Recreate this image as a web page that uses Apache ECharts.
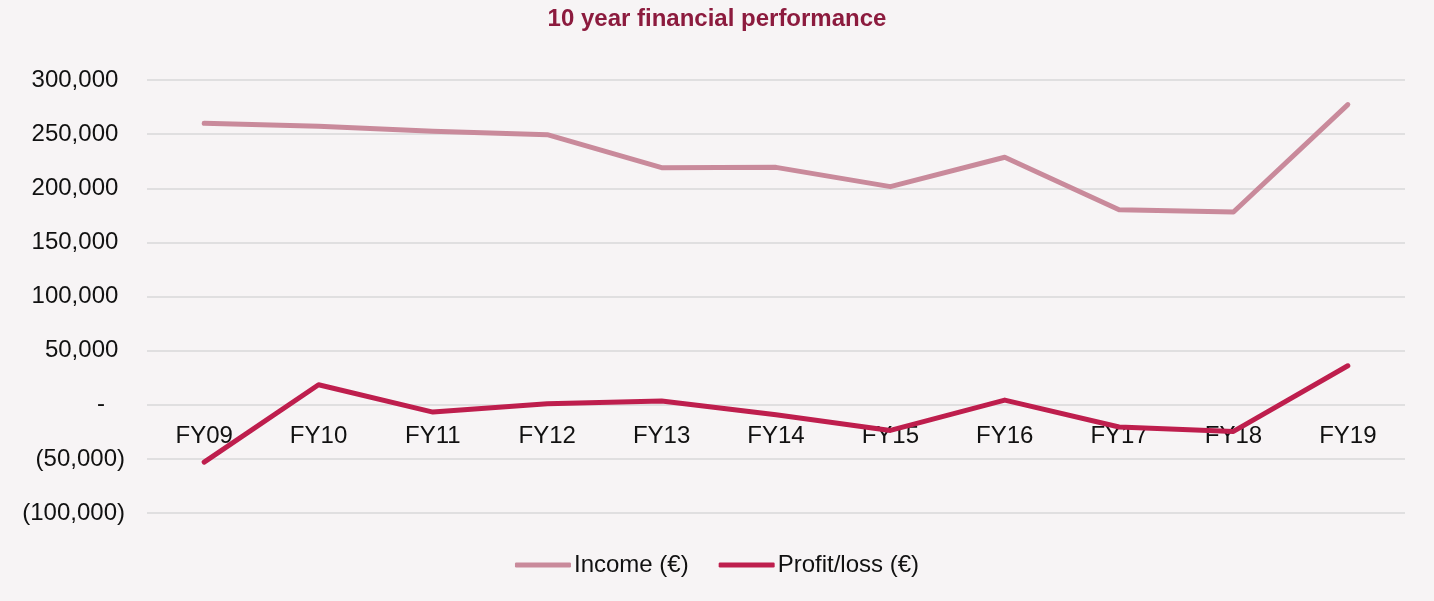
<!DOCTYPE html>
<html>
<head>
<meta charset="utf-8">
<script src="https://cdn.jsdelivr.net/npm/echarts@6/dist/echarts.min.js"></script>
<style>
  html, body { margin: 0; padding: 0; background: #f7f4f5; }
  #chart { width: 1434px; height: 601px; }
</style>
</head>
<body>
<div id="chart"></div>
<script>
// data
const years = ['FY09', 'FY10', 'FY11', 'FY12', 'FY13', 'FY14', 'FY15', 'FY16', 'FY17', 'FY18', 'FY19'];
const income = [260000, 257300, 252600, 249500, 219000, 219300, 201500, 228600, 180200, 178100, 277300];
const profit = [-53000, 18500, -6800, 900, 3400, -9200, -23700, 4300, -20600, -24600, 36000];

const FONT = '"Liberation Sans", Arial, sans-serif';
const Y_MIN = -100000, Y_MAX = 300000;
const GRID_TOP = 80, GRID_BOTTOM = 88, CHART_H = 601;

// accounting style: 300,000 / - / (50,000)
function fmtAccounting(v) {
    if (v === 0) return '-   ';
    let s = Math.abs(v).toLocaleString('en-US');
    return v < 0 ? '(' + s + ')' : s + ' ';
}

// category labels sit on the zero line, not at the bottom of the grid
const plotH = CHART_H - GRID_TOP - GRID_BOTTOM;
const zeroOffset = -plotH * (0 - Y_MIN) / (Y_MAX - Y_MIN);

const chart = echarts.init(document.getElementById('chart'));
chart.setOption({
    backgroundColor: '#f7f4f5',
    animation: false,
    title: {
        text: '10 year financial performance',
        left: 'center',
        top: 2,
        textStyle: { fontFamily: FONT, fontSize: 24, fontWeight: 'bold', color: '#8c1b3e' }
    },
    legend: {
        top: 548,
        left: 'center',
        itemWidth: 56,
        itemHeight: 5,
        itemGap: 30,
        icon: 'roundRect',
        textStyle: { fontFamily: FONT, fontSize: 24, color: '#111', padding: [0, 0, 0, -2] },
        data: ['Income (€)', 'Profit/loss (€)']
    },
    grid: { left: 147, right: 29, top: GRID_TOP, bottom: GRID_BOTTOM, containLabel: false },
    xAxis: {
        type: 'category',
        data: years,
        boundaryGap: true,
        offset: zeroOffset,
        axisLine: { show: false },
        axisTick: { show: false },
        axisLabel: { fontFamily: FONT, fontSize: 24, color: '#111', margin: 20 }
    },
    yAxis: {
        type: 'value',
        min: Y_MIN,
        max: Y_MAX,
        interval: 50000,
        axisLine: { show: false },
        axisTick: { show: false },
        axisLabel: { fontFamily: FONT, fontSize: 24, color: '#111', margin: 22, formatter: fmtAccounting },
        splitLine: { lineStyle: { color: '#d9d9d9', width: 1.5 } }
    },
    series: [
        {
            name: 'Income (€)',
            type: 'line',
            data: income,
            symbol: 'none',
            color: '#c98a9b',
            lineStyle: { width: 5, color: '#c98a9b', cap: 'round', join: 'round' }
        },
        {
            name: 'Profit/loss (€)',
            type: 'line',
            data: profit,
            symbol: 'none',
            z: 3,
            color: '#be1e4d',
            lineStyle: { width: 5, color: '#be1e4d', cap: 'round', join: 'round' }
        }
    ]
});
</script>
</body>
</html>
